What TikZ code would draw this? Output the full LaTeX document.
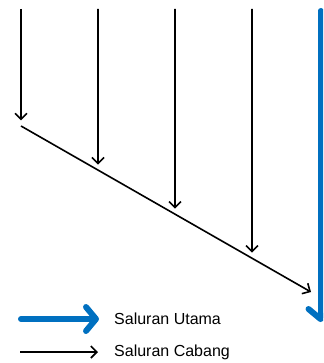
\documentclass[tikz,border=0pt]{standalone}
\usepackage{fontspec}
\setmainfont{Liberation Sans}
\usetikzlibrary{arrows.meta}
\definecolor{mainblue}{RGB}{0,112,192}
\begin{document}
\begin{tikzpicture}[x=1pt, y=-1pt,
    branch/.style={line width=1.6pt, -{Straight Barb[length=6pt, width=12pt]}},
    mainline/.style={line width=6pt, mainblue, line cap=round,
        -{Straight Barb[length=10pt, width=24pt, round]}},
    label/.style={anchor=west, inner sep=0pt, font=\fontsize{16}{19}\selectfont}]
    \useasboundingbox (0,0) rectangle (323,363);
    \clip (0,0) rectangle (323,363);

    % Collector line
    \coordinate (d0) at (21,126);
    \coordinate (d1) at (311,292);
    \draw[branch] (d0) -- (d1);

    % Branch lines
    \foreach \x [count=\i] in {21,98,175,252} {
        \coordinate (t\i) at (\x,9);
        \path (d0) -- (d1) coordinate[pos={(\x-21)/290}] (b\i);
        \draw[branch, shorten >=5.5pt] (t\i) -- (b\i);
    }

    % Main line
    \coordinate (m0) at (320.5,11);
    \coordinate (m1) at (320.5,322);
    \draw[mainline] (m0) -- (m1);

    % Legend
    \coordinate (lu0) at (21,319);
    \coordinate (lu1) at (99,319);
    \draw[mainline] (lu0) -- (lu1);
    \node[label] (utama) at (114,319) {Saluran Utama};

    \coordinate (lc0) at (20,352);
    \coordinate (lc1) at (98,352);
    \draw[branch] (lc0) -- (lc1);
    \node[label] (cabang) at (114,352) {Saluran Cabang};
\end{tikzpicture}
\end{document}
